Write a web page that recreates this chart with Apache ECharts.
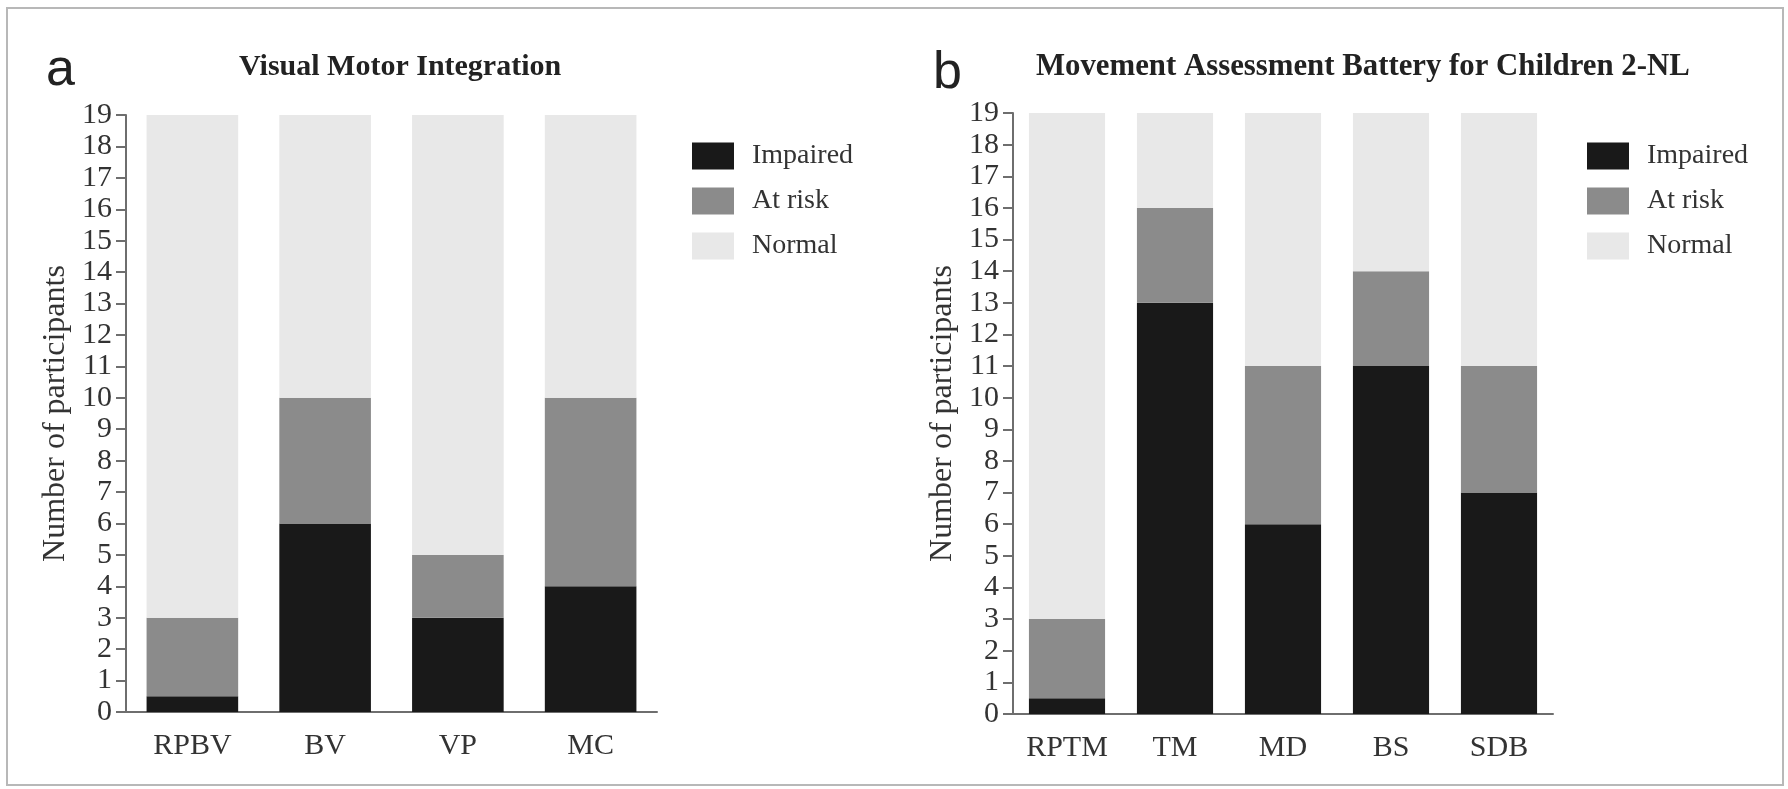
<!DOCTYPE html>
<html>
<head>
<meta charset="utf-8">
<script src="https://cdn.jsdelivr.net/npm/echarts@6/dist/echarts.min.js"></script>
<style>
  html, body { margin: 0; padding: 0; background: #ffffff; }
  #chart { width: 1788px; height: 789px; }
</style>
</head>
<body>
<div id="chart"></div>
<script>
// ---- Data ----
const seriesNames = ['Impaired', 'At risk', 'Normal'];

const vmiCategories = ['RPBV', 'BV', 'VP', 'MC'];
const vmiImpaired = [0.5, 6, 3, 4];
const vmiAtRisk   = [2.5, 4, 2, 6];
const vmiNormal   = [16, 9, 14, 9];

const mabcCategories = ['RPTM', 'TM', 'MD', 'BS', 'SDB'];
const mabcImpaired = [0.5, 13, 6, 11, 7];
const mabcAtRisk   = [2.5, 3, 5, 3, 4];
const mabcNormal   = [16, 3, 8, 5, 8];

const yMin = 0, yMax = 19, yInterval = 1;

const titleA = 'Visual Motor Integration';
const titleB = 'Movement Assessment Battery for Children 2-NL';
const yAxisName = 'Number of participants';

// ---- Styles ----
const colors = ['#191919', '#8b8b8b', '#e8e8e8'];
const serif = 'Liberation Serif';
const textColor = '#333333';
const axisColor = '#6e6e6e';

function makeYAxis(gridIndex) {
  return {
    type: 'value', gridIndex, min: yMin, max: yMax, interval: yInterval,
    name: yAxisName, nameLocation: 'middle', nameGap: 54,
    nameTextStyle: { fontFamily: serif, fontSize: 32, color: textColor },
    axisLine: { show: true, lineStyle: { color: axisColor, width: 2 } },
    axisTick: { show: true, length: 10, lineStyle: { color: axisColor, width: 2 } },
    axisLabel: { fontFamily: serif, fontSize: 30, color: textColor, margin: 14 },
    splitLine: { show: false }
  };
}
function makeXAxis(gridIndex, cats) {
  return {
    type: 'category', gridIndex, data: cats,
    axisLine: { show: true, lineStyle: { color: axisColor, width: 2 } },
    axisTick: { show: false },
    axisLabel: { fontFamily: serif, fontSize: 30, color: textColor, margin: 19 },
    splitLine: { show: false }
  };
}
function makeSeries(idx, data, gap) {
  return seriesNames.map((n, i) => ({
    name: n, type: 'bar', stack: 'total' + idx,
    xAxisIndex: idx, yAxisIndex: idx,
    data: data[i], barCategoryGap: gap,
    itemStyle: { color: colors[i] },
    emphasis: { disabled: true },
    animation: false
  }));
}
function makeLegend(left) {
  return {
    orient: 'vertical', left, top: 137,
    data: seriesNames, itemWidth: 42, itemHeight: 27, itemGap: 17,
    icon: 'rect',
    textStyle: { fontFamily: serif, fontSize: 28, color: textColor, padding: [0, 0, 0, 13] },
    selectedMode: false
  };
}

const chart = echarts.init(document.getElementById('chart'), null, { renderer: 'canvas' });
const option = {
  backgroundColor: '#ffffff',
  animation: false,
  color: colors,
  title: [
    { text: titleA, left: 234, top: 47, textStyle: { fontFamily: serif, fontWeight: 'bold', fontSize: 30, color: '#222' } },
    { text: titleB, left: 1031, top: 47, textStyle: { fontFamily: serif, fontWeight: 'bold', fontSize: 30.8, color: '#222' } },
    { text: 'a', left: 41, top: 40, textStyle: { fontFamily: 'Liberation Sans', fontWeight: 'normal', fontSize: 52, color: '#222' } },
    { text: 'b', left: 928, top: 43, textStyle: { fontFamily: 'Liberation Sans', fontWeight: 'normal', fontSize: 52, color: '#222' } }
  ],
  legend: [makeLegend(687), makeLegend(1582)],
  grid: [
    { left: 126, right: 1131, top: 115, bottom: 77 },
    { left: 1013, right: 235, top: 113, bottom: 75 }
  ],
  xAxis: [makeXAxis(0, vmiCategories), makeXAxis(1, mabcCategories)],
  yAxis: [makeYAxis(0), makeYAxis(1)],
  series: [
    ...makeSeries(0, [vmiImpaired, vmiAtRisk, vmiNormal], '31%'),
    ...makeSeries(1, [mabcImpaired, mabcAtRisk, mabcNormal], '29.5%')
  ],
  graphic: [{
    type: 'rect', silent: true,
    shape: { x: 7, y: 8, width: 1776, height: 777 },
    style: { fill: 'none', stroke: '#b8b8b8', lineWidth: 2 }
  }]
};
chart.setOption(option);
</script>
</body>
</html>
